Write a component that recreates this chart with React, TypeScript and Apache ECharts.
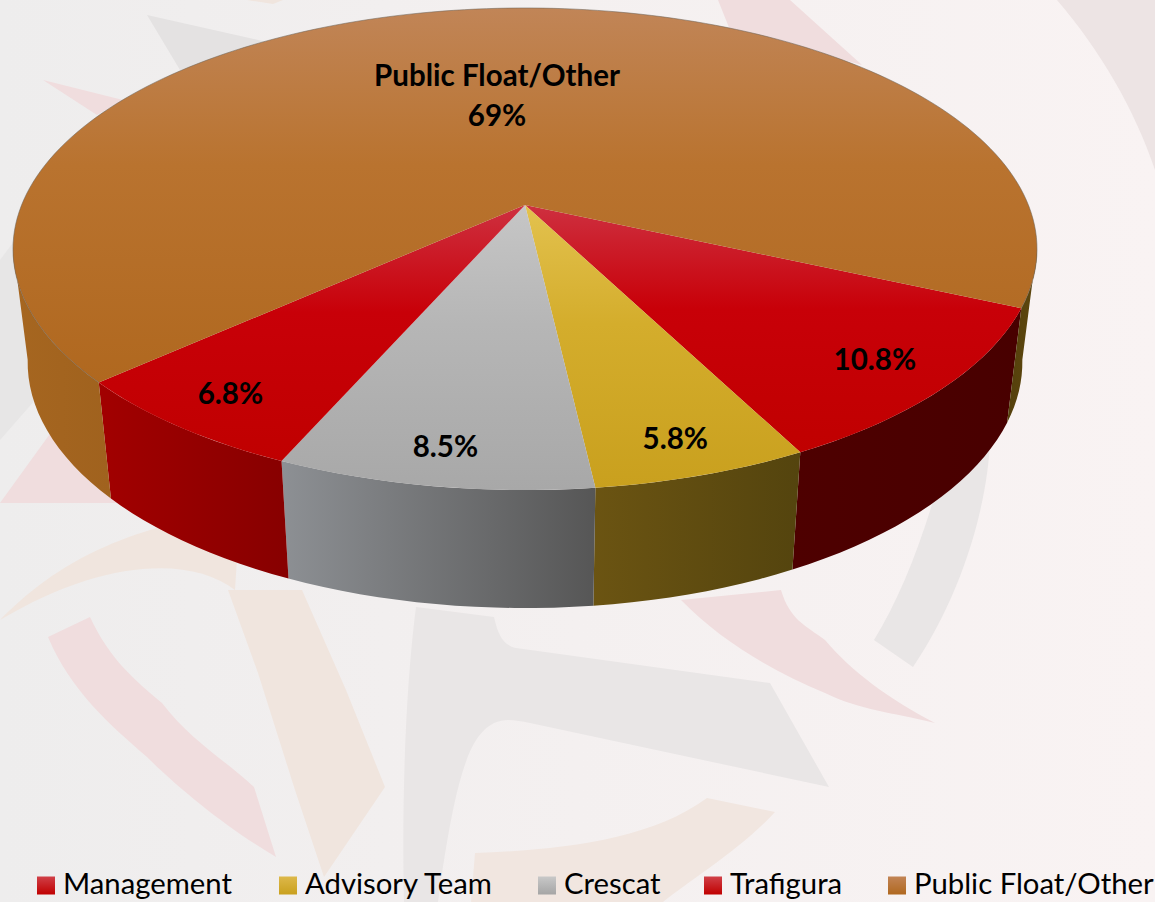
import React, { useEffect, useRef } from "react";
import * as echarts from "echarts";

const sliceNames = ["Management", "Advisory Team", "Crescat", "Trafigura", "Public Float/Other"];
const sliceValues = [10.8, 5.8, 8.5, 6.8, 69];
const legendOrder = ["Management", "Advisory Team", "Crescat", "Trafigura", "Public Float/Other"];
const legendLeft = [37, 279, 538, 704, 888];
const topColors = [
  ["#CE3040", "#C80008", "#C00000"],
  ["#E3C24F", "#D4AD2C", "#C9A01E"],
  ["#C6C6C6", "#B6B6B6", "#A8A8A8"],
  ["#CE3040", "#C80008", "#C00000"],
  ["#C18557", "#B9732F", "#B0681F"],
];
const legendColors = [
  ["#D04048", "#C00000"],
  ["#DDB84A", "#C9A01E"],
  ["#C8C8C8", "#A5A5A5"],
  ["#D04048", "#C00000"],
  ["#C28455", "#B0681F"],
];
const wallColors = [
  ["#4E0000", "#480000"],
  ["#6B5412", "#54440E"],
  ["#8D9094", "#565656"],
  ["#A20000", "#870000"],
  ["#A66620", "#A0621E"],
];
const rightWallColors = ["#54400C", "#5E470E"];
const labelRadius = [0.87, 0.87, 0.87, 0.87, 0.52];
const labelNudge = [
  [-7, -3],
  [0, 4],
  [-2, 3],
  [0, -1],
  [9, -1],
];

const watermark: { d: string; fill: string }[] = [
  { d: "M1057 0 C1100 50 1135 110 1155 170 L1155 0 Z", fill: "#EDE4E4" },
  { d: "M147 15 L267 42 L180 70 Z", fill: "#E4E2E2" },
  { d: "M43 80 L123 100 L97 115 Z", fill: "#F0DDDE" },
  { d: "M247 0 L283 0 L273 4 Z", fill: "#F0E5DE" },
  { d: "M718 0 L790 0 L862 65 L730 30 Z", fill: "#F0DDDE" },
  { d: "M0 260 L15 240 L35 400 L0 440 Z", fill: "#E7E6E6" },
  { d: "M48 637 L90 617 C110 660 135 680 162 703 C190 740 225 760 254 787 L276 857 C230 830 180 790 147 757 C110 725 70 690 48 637 Z", fill: "#F0DDDE" },
  { d: "M228 590 L258 673 L295 790 L324 877 L385 787 L346 690 L302 590 Z", fill: "#F0E5DE" },
  { d: "M416 607 L494 617 C498 635 503 645 516 648 L770 683 L829 787 L530 723 C515 720 505 718 494 723 C472 735 457 763 438 902 L404 902 C402 820 404 700 416 607 Z", fill: "#E9E6E6" },
  { d: "M681 600 L781 590 C790 620 805 625 825 640 C850 670 890 700 935 723 C890 712 860 710 825 693 C770 670 720 640 681 600 Z", fill: "#F0DDDE" },
  { d: "M990 440 C988 500 965 590 913 667 L874 640 C905 590 930 520 950 440 Z", fill: "#E9E6E6" },
  { d: "M707 798 L775 812 C740 850 690 880 663 902 L471 902 L475 853 C560 850 650 840 707 798 Z", fill: "#F1E6E0" },
  { d: "M0 503 L128 503 L150 420 L60 420 Z", fill: "#F0DDDE" },
  { d: "M0 620 C50 570 110 530 240 510 L235 590 C190 555 100 560 0 620 Z", fill: "#F0E5DE" },
];

const CX = 525;
const APEX_Y = 205;
const A = 503.4;
const B = 233;
const P = 0.1826;
const BOTTOM_X = 0.9714;
const START_ANGLE = 65.8;
const SILHOUETTE = 80;

function project(angleDeg: number, r: number) {
  const t = (angleDeg * Math.PI) / 180;
  const u = r * Math.sin(t);
  const w = r * Math.cos(t);
  const d = 1 - P * w;
  return { x: CX + (A * u) / d, y: APEX_Y + (B * w) / d, w };
}

function lower(angleDeg: number) {
  const p = project(angleDeg, 1);
  return [CX + (p.x - CX) * BOTTOM_X, p.y + 112 + 6 * p.w];
}

function grad(c: string[], vertical: boolean) {
  const n = c.length - 1;
  const stops =
    n === 2
      ? [
          { offset: 0, color: c[0] },
          { offset: 0.42, color: c[1] },
          { offset: 1, color: c[2] },
        ]
      : c.map((color, i) => ({ offset: i / n, color }));
  return new echarts.graphic.LinearGradient(0, 0, vertical ? 0 : 1, vertical ? 1 : 0, stops);
}

function legendGrad(c: string[]) {
  return new echarts.graphic.LinearGradient(0, 0, 0, 1, [
    { offset: 0.25, color: c[0] },
    { offset: 1, color: c[1] },
  ]);
}

function wallPiece(a0: number, a1: number, colors: string[]) {
  const top: number[][] = [];
  const bot: number[][] = [];
  const steps = Math.max(2, Math.ceil(Math.abs(a1 - a0) / 2));
  for (let i = 0; i <= steps; i++) {
    const a = a0 + ((a1 - a0) * i) / steps;
    const p = project(a, 1);
    top.push([p.x, p.y]);
    bot.push(lower(a));
  }
  return {
    type: "polygon",
    z2: 1,
    shape: { points: top.concat(bot.reverse()) },
    style: { fill: grad(colors, false) },
  };
}

const renderSlice = (index: number) => (_p: any, api: any) => {
  const total = sliceValues.reduce((s, v) => s + v, 0);
  const before = sliceValues.slice(0, index).reduce((s, v) => s + v, 0);
  const a0 = START_ANGLE - (before / total) * 360;
  const a1 = a0 - (api.value(0) / total) * 360;
  const rim: number[][] = [];
  const steps = Math.ceil((a0 - a1) / 1.5);
  for (let i = 0; i <= steps; i++) {
    const p = project(a0 + ((a1 - a0) * i) / steps, 1);
    rim.push([p.x, p.y]);
  }
  const children: any[] = [];
  if (a1 < -SILHOUETTE) {
    children.push(wallPiece(a0, -SILHOUETTE, wallColors[index]));
    children.push(wallPiece(SILHOUETTE - 360, a1, rightWallColors));
    children.push({
      type: "polyline",
      z2: 6,
      shape: { points: rim },
      style: { fill: "none", stroke: "rgba(110,100,90,0.55)", lineWidth: 1 },
    });
  } else {
    children.push(wallPiece(a0, a1, wallColors[index]));
  }
  children.push({
    type: "polygon",
    z2: 5,
    shape: { points: [[CX, APEX_Y], ...rim] },
    style: { fill: grad(topColors[index], true) },
  });
  const mid = project((a0 + a1) / 2, labelRadius[index]);
  const text =
    index === 4 ? `${sliceNames[index]}\n${api.value(0)}%` : `${api.value(0)}%`;
  children.push({
    type: "text",
    z2: 10,
    x: mid.x + labelNudge[index][0],
    y: mid.y + labelNudge[index][1],
    style: {
      text,
      fill: "#000",
      font: 'bold 29.5px Lato, "Noto Sans", sans-serif',
      lineHeight: 40,
      align: "center",
      verticalAlign: "middle",
    },
  });
  return { type: "group", children };
};

export default function App() {
  const ref = useRef<HTMLDivElement>(null);
  useEffect(() => {
    document.body.style.margin = "0";
    const chart = echarts.init(ref.current!, undefined, { renderer: "svg" });
    watermark.forEach((m, i) => {
      echarts.graphic.registerShape("wm" + i, echarts.graphic.extendPath(m.d, {}) as any);
    });
    chart.setOption({
      animation: false,
      backgroundColor: new echarts.graphic.LinearGradient(0, 0, 1, 0, [
        { offset: 0, color: "#EEEDED" },
        { offset: 0.5, color: "#F4F0F0" },
        { offset: 1, color: "#F9F3F3" },
      ]),
      graphic: watermark.map((m, i) => ({
        type: "wm" + i,
        x: 0,
        y: 0,
        z: 0,
        silent: true,
        style: { fill: m.fill },
      })),
      legend: legendOrder.map((name, i) => ({
        left: legendLeft[i],
        top: 868,
        itemWidth: 18,
        itemHeight: 24,
        itemGap: 0,
        padding: 0,
        selectedMode: false,
        icon: "path://M0 0L0.01 0L0 0.01Z M0 6H18V24H0Z",
        data: [{ name, itemStyle: { color: legendGrad(legendColors[i]) } }],
        textStyle: {
          color: "#000",
          fontFamily: 'Lato, "Noto Sans", sans-serif',
          fontSize: 29.3,
          padding: [0, 0, 0, 3],
        },
      })),
      series: sliceNames.map((name, i) => ({
        type: "custom",
        name,
        coordinateSystem: "none",
        z: 3,
        silent: true,
        data: [[sliceValues[i]]],
        renderItem: renderSlice(i),
        itemStyle: { color: legendColors[i][1] },
      })),
    });
    return () => chart.dispose();
  }, []);
  return <div ref={ref} style={{ width: 1155, height: 902 }} />;
}
